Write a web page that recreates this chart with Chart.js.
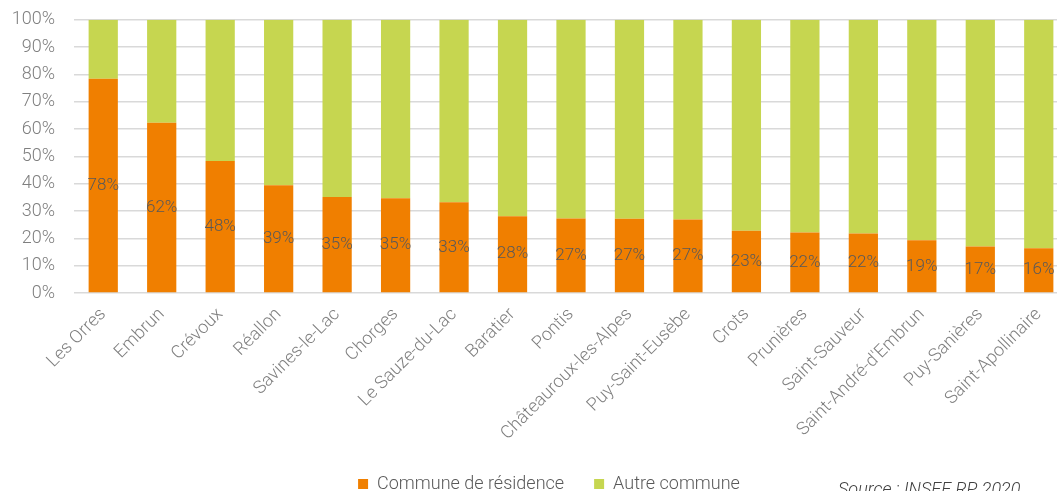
<!DOCTYPE html>
<html>
<head>
<meta charset="utf-8">
<script src="https://cdn.jsdelivr.net/npm/chart.js@4/dist/chart.umd.min.js"></script>
<style>
  html, body { margin: 0; padding: 0; background: #fff; overflow: hidden; }
  #wrap { position: relative; width: 1068px; height: 491px; overflow: hidden; }
  #chart { position: absolute; left: 0; top: -10px; }
  #source { position: absolute; left: 838px; top: 478px; font: italic 300 18px Roboto, sans-serif; color: #404040; white-space: nowrap; }
</style>
</head>
<body>
<div id="wrap">
  <canvas id="chart" width="1068" height="513"></canvas>
  <div id="source">Source : INSEE RP 2020</div>
</div>
<script>
const communes = ['Les Orres', 'Embrun', 'Crévoux', 'Réallon', 'Savines-le-Lac', 'Chorges', 'Le Sauze-du-Lac', 'Baratier', 'Pontis', 'Châteauroux-les-Alpes', 'Puy-Saint-Eusèbe', 'Crots', 'Prunières', 'Saint-Sauveur', "Saint-André-d'Embrun", 'Puy-Sanières', 'Saint-Apollinaire'];
const residence = [78.4, 62.3, 48.3, 39.4, 35.1, 34.7, 33.2, 28.1, 27.3, 27.2, 26.9, 22.8, 22.1, 21.8, 19.3, 17.0, 16.4];
const autre = [21.6, 37.7, 51.7, 60.6, 64.9, 65.3, 66.8, 71.9, 72.7, 72.8, 73.1, 77.2, 77.9, 78.2, 80.7, 83.0, 83.6];
const yTicks = [0, 10, 20, 30, 40, 50, 60, 70, 80, 90, 100];

const ORANGE = '#F07F00';
const VERT = '#C6D650';

// étiquettes au milieu des barres orange
const etiquettes = {
  id: 'etiquettes',
  afterDatasetsDraw(chart) {
    const ctx = chart.ctx;
    const meta = chart.getDatasetMeta(0);
    ctx.save();
    ctx.font = '300 17px Roboto';
    ctx.fillStyle = '#595959';
    ctx.textAlign = 'center';
    ctx.textBaseline = 'middle';
    meta.data.forEach((bar, i) => {
      ctx.fillText(Math.round(residence[i]) + '%', bar.x, (bar.y + bar.base) / 2);
    });
    ctx.restore();
  }
};

// décale un peu la légende vers la droite
const decaleLegende = {
  id: 'decaleLegende',
  afterLayout(chart) {
    chart.legend.left += 15;
    chart.legend.right += 15;
  }
};

new Chart(document.getElementById('chart'), {
  type: 'bar',
  data: {
    labels: communes,
    datasets: [
      { label: 'Commune de résidence', data: residence, backgroundColor: ORANGE },
      { label: 'Autre commune', data: autre, backgroundColor: VERT }
    ]
  },
  options: {
    responsive: false,
    animation: false,
    layout: { padding: 0 },
    plugins: {
      legend: {
        position: 'bottom',
        labels: {
          boxWidth: 10, boxHeight: 10, padding: 30,
          color: '#595959',
          font: { family: 'Roboto', size: 18, weight: 300 }
        }
      },
      tooltip: { enabled: false }
    },
    datasets: { bar: { barPercentage: 0.5, categoryPercentage: 1 } },
    scales: {
      x: {
        stacked: true,
        grid: { display: false },
        border: { display: false },
        ticks: {
          autoSkip: false, maxRotation: 45, minRotation: 45,
          color: '#7F7F7F',
          font: { family: 'Roboto', size: 18, weight: 300 }
        },
        afterFit(scale) { scale.height = 152; }
      },
      y: {
        stacked: true,
        min: 0, max: 100,
        afterBuildTicks(scale) { scale.ticks = yTicks.map(v => ({ value: v })); },
        grid: { color: '#D9D9D9', lineWidth: 1.5, drawTicks: false },
        border: { display: false },
        ticks: {
          autoSkip: false,
          padding: 19,
          color: '#7F7F7F',
          font: { family: 'Roboto', size: 18, weight: 300 },
          callback: v => v + '%'
        },
        afterFit(scale) { scale.width = 74; }
      }
    }
  },
  plugins: [etiquettes, decaleLegende]
});
</script>
</body>
</html>
